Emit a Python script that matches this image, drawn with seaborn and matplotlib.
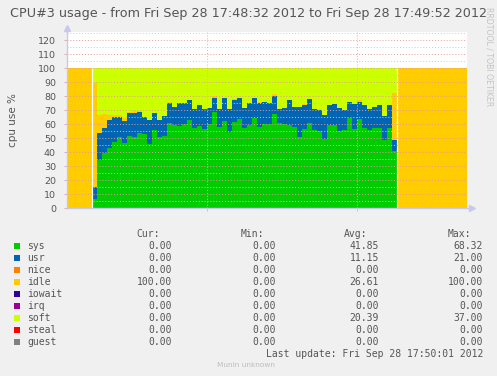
import numpy as np
import pandas as pd
import matplotlib
matplotlib.use("Agg")
import matplotlib.pyplot as plt
from matplotlib.patches import Rectangle
import seaborn as sns

# ---------------- data ----------------
title = "CPU#3 usage - from Fri Sep 28 17:48:32 2012 to Fri Sep 28 17:49:52 2012"
series = ["sys", "usr", "nice", "idle", "iowait", "irq", "soft", "steal", "guest"]
colors = ["#00CC00", "#0066B3", "#FF8000", "#FFCC00", "#330099",
          "#990099", "#CCFF00", "#FF0000", "#808080"]

# one sample per second, 17:48:32 .. 17:49:52
sys_vals = [0, 0, 0, 0, 0, 6.5, 34.0, 39.5, 43.0, 47.4,
            51.0, 46.6, 51.4, 50.5, 53.3, 53.0, 45.5, 56.0, 50.5, 51.5,
            60.7, 59.5, 58.8, 60.0, 63.0, 57.0, 58.8, 56.7, 60.3, 68.32,
            58.0, 62.0, 54.5, 61.6, 63.3, 57.0, 59.0, 64.0, 58.0, 60.0,
            60.0, 67.0, 60.5, 60.0, 59.0, 58.0, 51.0, 56.4, 60.5, 55.7,
            55.0, 49.0, 59.0, 59.0, 55.0, 55.7, 64.0, 56.4, 63.3, 57.0,
            55.7, 57.0, 57.0, 48.6, 57.0, 41.0, 0, 0, 0, 0,
            0, 0, 0, 0, 0, 0, 0, 0, 0, 0]
usr_vals = [0, 0, 0, 0, 0, 8.3, 19.3, 17.5, 20.0, 17.4,
            14.0, 15.4, 16.2, 17.5, 15.5, 12.0, 17.5, 11.8, 12.5, 14.2,
            14.3, 12.4, 16.0, 14.8, 14.0, 13.5, 14.8, 14.0, 11.4, 10.5,
            12.5, 16.8, 16.5, 15.4, 15.5, 14.7, 15.8, 14.3, 17.0, 16.0,
            15.0, 13.0, 10.2, 11.7, 18.0, 14.4, 21.0, 17.2, 17.1, 14.8,
            14.8, 17.4, 14.6, 15.0, 16.2, 14.3, 11.9, 17.6, 12.7, 16.6,
            14.8, 14.9, 16.3, 17.1, 16.6, 7.6, 0, 0, 0, 0,
            0, 0, 0, 0, 0, 0, 0, 0, 0, 0]
nice_vals = [0] * 80
idle_vals = [100, 100, 100, 100, 100, 74.2, 13.1, 10.0, 3.4, 1.6,
             1.2, 2.0, 0.8, 1.0, 0.5, 0, 0, 0, 0, 0,
             0.8, 0, 0, 0, 0, 0, 0, 0, 0, 1.0,
             0, 0, 0, 0.8, 0, 0, 0, 0, 0.8, 0,
             0, 1.2, 0, 0, 0, 0, 0, 1.0, 0, 0,
             0.8, 0, 0, 0, 0, 0, 0, 0, 1.0, 0,
             0, 0, 0, 0, 0, 33.4, 100, 100, 100, 100,
             100, 100, 100, 100, 100, 100, 100, 100, 100, 100]
iowait_vals = [0] * 80
irq_vals = [0] * 80
soft_vals = [0, 0, 0, 0, 0, 11.0, 33.6, 33.0, 33.6, 33.6,
             33.8, 36.0, 31.6, 31.0, 30.7, 35.0, 37.0, 32.2, 37.0, 34.3,
             24.2, 28.1, 25.2, 25.2, 23.0, 29.5, 26.4, 29.3, 28.3, 20.18,
             29.5, 21.2, 29.0, 22.2, 21.2, 28.3, 25.2, 21.7, 24.2, 24.0,
             25.0, 18.8, 29.3, 28.3, 23.0, 27.6, 28.0, 25.4, 22.4, 29.5,
             29.4, 33.6, 26.4, 26.0, 28.8, 30.0, 24.1, 26.0, 23.0, 26.4,
             29.5, 28.1, 26.7, 34.3, 26.4, 18.0, 0, 0, 0, 0,
             0, 0, 0, 0, 0, 0, 0, 0, 0, 0]
steal_vals = [0] * 80
guest_vals = [0] * 80

cur_txt = ["0.00", "0.00", "0.00", "100.00", "0.00", "0.00", "0.00", "0.00", "0.00"]
min_txt = ["0.00"] * 9
avg_txt = ["41.85", "11.15", "0.00", "26.61", "0.00", "0.00", "20.39", "0.00", "0.00"]
max_txt = ["68.32", "21.00", "0.00", "100.00", "0.00", "0.00", "37.00", "0.00", "0.00"]
last_update = "Last update: Fri Sep 28 17:50:01 2012"

y_ticks = list(range(0, 121, 10))
x_grid = [28, 58]   # 17:49:00 and 17:49:30, seconds after start

values = [sys_vals, usr_vals, nice_vals, idle_vals, iowait_vals,
          irq_vals, soft_vals, steal_vals, guest_vals]
n = len(sys_vals)
rows = []
for name, vals in zip(series, values):
    for k, v in enumerate(vals):
        rows.append({"t": k + 0.5, "value": v, "series": name})
df = pd.DataFrame(rows)

# ---------------- figure ----------------
sns.set_theme(style="white")
plt.rcParams["font.family"] = ["DejaVu Sans"]
BG = "#f0f0f0"
W, H = 497, 376
fig = plt.figure(figsize=(W / 100, H / 100), dpi=100, facecolor=BG)

def fx(px):
    return px / W

def fy(py):
    return 1 - py / H

ytop = 126
ax_top_px = 208 - ytop * 1.4
ax = fig.add_axes([fx(67), fy(208), fx(400), (208 - ax_top_px) / H])
ax.set_facecolor("white")

palette = dict(zip(series, colors))
sns.histplot(data=df, x="t", weights="value", hue="series",
             hue_order=series[::-1], multiple="stack", element="step",
             bins=n, binrange=(0, n), palette=palette, alpha=1,
             linewidth=0, edgecolor="none", legend=False, ax=ax, zorder=2)

# thin white seams where the idle block meets the data
idle_arr = np.array(idle_vals)
full = idle_arr >= 100
seams = [k for k in range(1, n) if full[k] != full[k - 1]]
ax.vlines(seams, 0, 100, color="white", lw=0.9, zorder=3)

ax.set_xlim(0, n)
ax.set_ylim(0, ytop)
ax.set_xlabel("")
ax.set_ylabel("cpu use %", fontsize=7.5, color="#555555", labelpad=14)
ax.set_yticks(y_ticks)
ax.set_yticks([v + 5 for v in y_ticks], minor=True)
ax.set_xticks(x_grid)
ax.set_xticklabels([])
ax.tick_params(axis="y", which="major", labelsize=6.8, labelcolor="#555555",
               length=2, width=0.6, color="#e0a0a0", pad=6, left=True)
ax.tick_params(axis="y", which="minor", length=0)
ax.tick_params(axis="x", which="major", length=2, width=0.6, color="#c0c0c0",
               bottom=True)

for v in y_ticks[1:]:
    ax.axhline(v, color="#e39a9a", lw=0.7, ls=(0, (1, 2)), zorder=4)
for v in [t + 5 for t in y_ticks]:
    ax.axhline(v, color="#cccccc", lw=0.7, ls=(0, (1, 2)), zorder=4)
for v in x_grid:
    ax.axvline(v, color="#c0c0c0", lw=0.7, ls=(0, (1, 2)), zorder=4)

for s in ["top", "right"]:
    ax.spines[s].set_visible(False)
for s in ["left", "bottom"]:
    ax.spines[s].set_color("#c8c8ec")
    ax.spines[s].set_linewidth(1.0)
    ax.spines[s].set_zorder(5)
ax.plot([0], [1.02], marker="^", ms=4.5, color="#c8c8ec", transform=ax.transAxes,
        clip_on=False, zorder=6)
ax.plot([0, 0], [1.0, 1.02], color="#c8c8ec", lw=1, transform=ax.transAxes,
        clip_on=False, zorder=6)
ax.plot([1.0, 1.012], [0, 0], color="#c8c8ec", lw=1, transform=ax.transAxes,
        clip_on=False, zorder=6)
ax.plot([1.012], [0], marker=">", ms=4.5, color="#c8c8ec", transform=ax.transAxes,
        clip_on=False, zorder=6)

# title and side text
fig.text(fx(249), fy(13), title, ha="center", va="center", fontsize=9.2,
         color="#555555")
fig.text(fx(489), fy(57), "RRDTOOL / TOBI OETIKER", rotation=270, ha="center",
         va="center", fontsize=5.6, color="#c4c4c4")

# legend table
mono = "DejaVu Sans Mono"
lc = "#555555"
fs = 7
col_right = [172, 276, 379, 483]
headers = ["Cur:", "Min:", "Avg:", "Max:"]
for xr, h in zip(col_right, headers):
    fig.text(fx(xr - 11.7), fy(234), h, ha="right", va="center",
             family=mono, fontsize=fs, color=lc)
for i, name in enumerate(series):
    yc = 245.7 + 12 * i
    fig.add_artist(Rectangle((fx(14), fy(yc + 3)), fx(6), 6 / H,
                             transform=fig.transFigure, facecolor=colors[i],
                             edgecolor="none"))
    fig.text(fx(27), fy(yc), name, ha="left", va="center", family=mono,
             fontsize=fs, color=lc)
    for xr, col in zip(col_right, [cur_txt, min_txt, avg_txt, max_txt]):
        fig.text(fx(xr), fy(yc), col[i], ha="right", va="center", family=mono,
                 fontsize=fs, color=lc)
fig.text(fx(483), fy(354), last_update, ha="right", va="center", family=mono,
         fontsize=fs, color=lc)
fig.text(fx(217), fy(365), "Munin unknown", ha="left", va="center",
         fontsize=5.3, color="#bdbdbd")

fig.savefig("out.png", dpi=100, facecolor=BG)
